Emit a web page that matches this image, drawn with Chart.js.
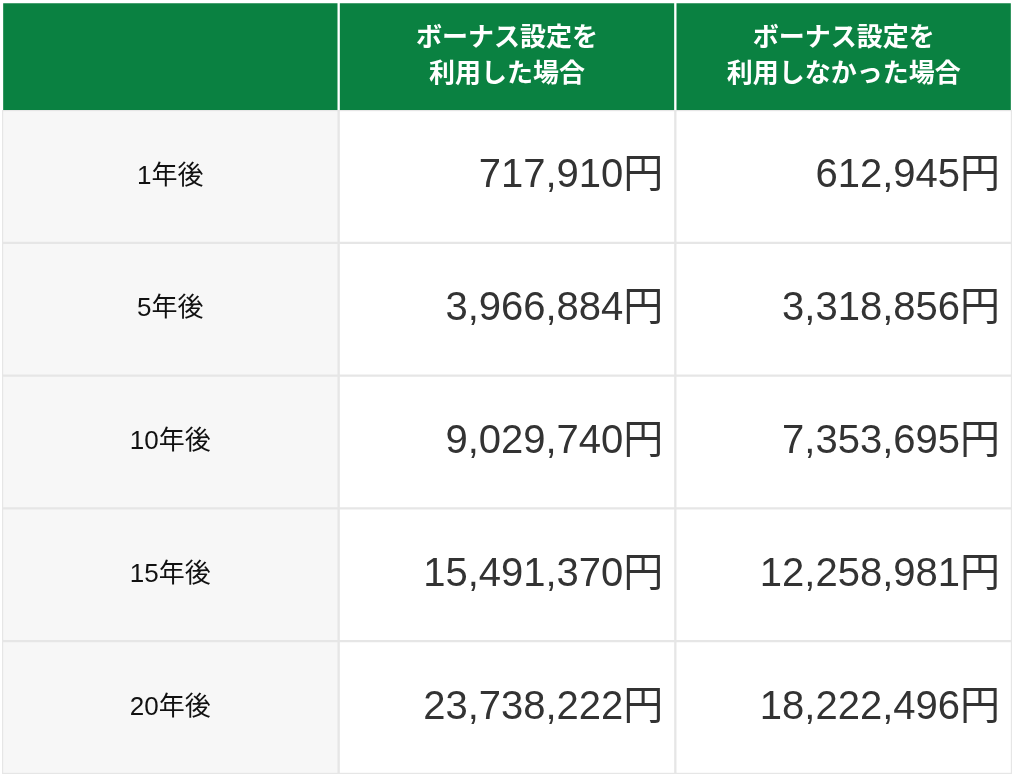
<!DOCTYPE html>
<html><head><meta charset="utf-8">
<script src="https://cdn.jsdelivr.net/npm/chart.js@4"></script>
<style>
body{margin:0;background:#fff;width:1022px;height:779px;overflow:hidden}
#head{position:absolute;left:2px;top:2px;width:1010px;height:110px}
#body{position:absolute;left:2px;top:110px;width:1010px;height:664px}
</style></head><body>
<div id="head"><canvas id="c1"></canvas></div>
<div id="body"><canvas id="c2"></canvas></div>
<script>
const headers = ['', 'ボーナス設定を\n利用した場合', 'ボーナス設定を\n利用しなかった場合'];
const years = ['1年後', '5年後', '10年後', '15年後', '20年後'];
const withBonus = ['717,910円', '3,966,884円', '9,029,740円', '15,491,370円', '23,738,222円'];
const withoutBonus = ['612,945円', '3,318,856円', '7,353,695円', '12,258,981円', '18,222,496円'];
const colEdges = [0, 1, 2, 3];
const FONT = '"Liberation Sans","Noto Sans CJK JP",sans-serif';

// each table column = one dataset of floating bars
function colData(n, i) { return Array(n).fill([colEdges[i], colEdges[i + 1]]); }

const cellInfo = {};  // canvas id -> { texts, style }
const textPlugin = {
  id: 'cellText',
  afterDatasetsDraw(chart) {
    const ctx = chart.ctx, { texts, style } = cellInfo[chart.canvas.id];
    chart.data.datasets.forEach((ds, di) => {
      chart.getDatasetMeta(di).data.forEach((el, ri) => {
        const s = style(di), lines = String(texts[di][ri]).split('\n');
        ctx.save();
        ctx.font = s.font; ctx.fillStyle = s.color; ctx.textBaseline = 'middle';
        ctx.textAlign = s.align;
        const x = s.align === 'right' ? el.x - 12 : (el.x + el.base) / 2;
        lines.forEach((l, k) => ctx.fillText(l, x, el.y + (k - (lines.length - 1) / 2) * 36));
        ctx.restore();
      });
    });
  }
};

function table(id, rows, colors, texts, style) {
  cellInfo[id] = { texts, style };
  new Chart(document.getElementById(id), {
    type: 'bar',
    data: { labels: rows, datasets: colors.map((c, i) => ({ data: colData(rows.length, i), backgroundColor: c, borderColor: c === '#0a8141' ? '#ffffff' : '#e6e6e6', borderWidth: 1.5, borderSkipped: false })) },
    options: {
      indexAxis: 'y', responsive: true, maintainAspectRatio: false, animation: false,
      datasets: { bar: { barPercentage: 1, categoryPercentage: 1, grouped: false } },
      layout: { padding: 0 },
      scales: { x: { type: 'linear', min: 0, max: 3, display: false }, y: { display: false } },
      plugins: { legend: { display: false }, tooltip: { enabled: false } }
    },
    plugins: [textPlugin]
  });
}

table('c1', ['head'], ['#0a8141', '#0a8141', '#0a8141'], headers.map(h => [h]),
  () => ({ font: 'bold 26px ' + FONT, color: '#ffffff', align: 'center' }));
table('c2', years, ['#f7f7f7', '#ffffff', '#ffffff'], [years, withBonus, withoutBonus],
  di => di === 0 ? { font: '26px ' + FONT, color: '#111111', align: 'center' } : { font: '40px ' + FONT, color: '#333333', align: 'right' });
</script></body></html>
